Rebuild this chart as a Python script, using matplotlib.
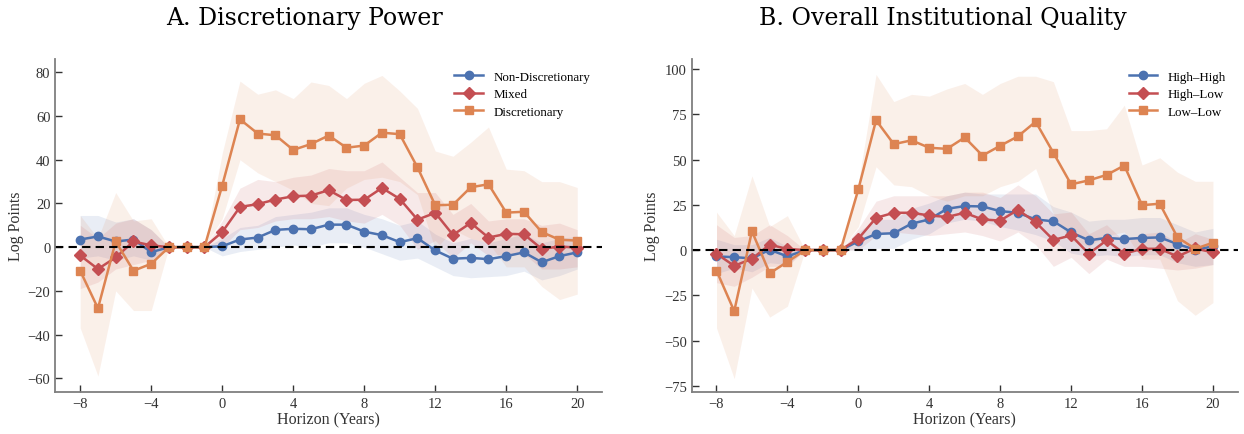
import numpy as np
import matplotlib
matplotlib.use("Agg")
import matplotlib.pyplot as plt

plt.rcParams["font.family"] = ["Liberation Serif", "DejaVu Serif"]

horizon = list(range(-8, 21))

# Panel A: discretionary power
nd = [3.5, 4.9, 2.6, 3.5, -2.3, 0, 0, 0, 0.4, 3.5, 4.4, 7.9, 8.4, 8.2, 10.3, 10.3, 7.1, 5.5, 2.3, 4.1, -1.5, -5.3, -4.9, -5.5, -4.1, -2.4, -6.9, -4.1, -2.4]
nd_lo = [-5, -4, -6, -4, -6, 0, 0, 0, -4, -2, -1, 0, 1, 0, 2, 2, 0, -3, -6, -5, -9, -13, -14, -13.5, -13, -11, -15, -13, -10]
nd_hi = [14.5, 14.5, 11.5, 13, 8, 0, 0, 0, 4, 9, 10, 14, 15, 16, 18, 18, 15, 13, 10, 12, 6, 2, 4, 2, 4, 6, 2, 4, 5]
mixed = [-3.8, -10.0, -4.7, 2.6, 0.8, 0, 0, 0, 6.9, 18.4, 19.7, 21.8, 23.3, 23.6, 26.1, 21.6, 21.7, 27.1, 22.1, 12.6, 15.7, 5.6, 11.1, 4.4, 6.1, 5.9, -0.8, 0.3, -0.2]
mixed_lo = [-19, -16, -10, -8, -6, 0, 0, 0, 0, 8, 9, 12, 13, 13, 14, 12, 11, 15, 10, -1, 3, -5, 2, -4, -3, -3, -10, -10, -9]
mixed_hi = [10, 4, 11, 13, 8, 0, 0, 0, 12, 27, 31, 30, 32, 33, 36, 35, 35, 39, 32, 25, 25, 15, 20, 12, 13, 13, 10, 11, 8]
disc = [-10.8, -28.0, 2.6, -10.8, -7.6, 0, 0, 0, 28.2, 58.5, 52.0, 51.2, 44.5, 47.2, 51.1, 45.5, 46.5, 52.4, 51.7, 36.5, 19.2, 19.4, 27.4, 28.8, 15.8, 16.2, 6.9, 3.4, 3.0]
disc_lo = [-37, -59, -20, -29, -29, 0, 0, 0, 13, 40, 34, 30, 26, 20, 19, 27, 31, 32, 30, 24, -1, 8, 4, 2, -9, -9, -18, -24, -21.5]
disc_hi = [14.5, 4, 25, 12, 13, 0, 0, 0, 43, 76, 70, 72, 68, 75.6, 74, 68, 75, 78.6, 71.5, 63.5, 44, 41.6, 48, 55, 35.7, 35, 30, 30, 27.3]

# Panel B: overall institutional quality
hh = [-3.5, -3.9, -4.6, 0.2, -3.5, 0, 0, 0, 4.8, 8.9, 9.3, 14.6, 16.9, 22.8, 24.3, 24.1, 21.5, 20.6, 16.9, 15.9, 9.8, 5.4, 6.7, 6.1, 6.7, 7.0, 3.3, 0.2, 2.0]
hh_lo = [-13, -10, -12, -7, -8, 0, 0, 0, 0, 1, 1, 6, 9, 15, 17, 16, 13, 11, 8.5, 5, -1.7, -3.5, -2.6, -3.5, -2.6, -2.6, -7, -9, -8]
hh_hi = [6, 3, 3, 7, 2, 0, 0, 0, 10, 17, 17, 23, 26, 30, 32, 31, 31, 31, 31, 24, 21, 16, 17, 17, 18, 18, 14, 10, 12]
hl = [-2.0, -8.7, -4.8, 3.0, 0.6, 0, 0, 0, 6.3, 17.8, 20.6, 20.6, 19.1, 18.3, 20.6, 16.9, 16.3, 22.2, 15.4, 5.6, 8.1, -2.0, 5.4, -2.0, 0.7, 0.7, -3.5, 0.9, -1.3]
hl_lo = [-18, -20, -15, -9, -9, 0, 0, 0, 0, 8, 10, 9, 8, 9, 10, 8, 5, 10, 3, -9, -4, -13, -5, -9, -9, -10, -11, -10, -8]
hl_hi = [14, 7, 8, 14, 8, 0, 0, 0, 12, 27, 30, 30, 30, 30, 32, 32, 29, 36, 30, 20, 21, 9, 14, 5, 9, 10, 4, 9, 6]
ll = [-11.3, -33.7, 10.4, -12.8, -6.5, 0, 0, 0, 33.5, 71.7, 58.5, 60.6, 56.5, 55.9, 62.2, 52.2, 57.6, 62.8, 70.9, 53.7, 36.3, 38.5, 41.5, 46.7, 24.8, 25.6, 7.0, 0.7, 4.1]
ll_lo = [-43, -71, -21, -37, -31, 0, 0, 0, 13, 46, 36, 35, 30, 27, 30, 30, 35, 38, 45, 20, 5, 2, 8, 10, -5, -5, -28, -36, -29]
ll_hi = [21, 8, 41, 13, 19, 0, 0, 0, 37, 97, 82, 86, 85, 89, 92, 86, 92, 96, 96, 93, 66, 66, 67, 80, 47, 51, 43, 38, 38]

colors = ["#4C72B0", "#C44E52", "#DD8452"]
markers = ["o", "D", "s"]


def panel(ax, series, labels, ylim, yticks):
    for (y, lo, hi), lab, c, m in zip(series, labels, colors, markers):
        ax.fill_between(horizon, lo, hi, color=c, alpha=0.12, lw=0)
        ax.plot(horizon, y, color=c, marker=m, ms=6, lw=1.8, label=lab)
    ax.axhline(0, color="black", ls="--", lw=1.5, dashes=(4, 2.5))
    ax.set_xlim(-9.4, 21.4)
    ax.set_ylim(*ylim)
    ax.set_xticks([-8, -4, 0, 4, 8, 12, 16, 20])
    ax.set_xticklabels(["\u22128", "\u22124", "0", "4", "8", "12", "16", "20"])
    ax.set_yticks(yticks)
    ax.set_yticklabels([str(t).replace("-", "\u2212") for t in yticks])
    for s in ["top", "right"]:
        ax.spines[s].set_visible(False)
    for s in ["left", "bottom"]:
        ax.spines[s].set_color("#7f7f7f")
        ax.spines[s].set_linewidth(1.3)
    ax.tick_params(direction="in", length=5, width=1, color="#333333",
                   labelsize=10.5, labelcolor="#333333")
    ax.set_xlabel("Horizon (Years)", fontsize=11.5, color="#333333", labelpad=1)
    ax.set_ylabel("Log Points", fontsize=11.5, color="#333333", labelpad=3)
    ax.legend(loc="upper right", frameon=False, fontsize=9.4, handlelength=2.2,
              labelspacing=0.4, bbox_to_anchor=(1.0, 1.0))


fig = plt.figure(figsize=(12.44, 4.35), dpi=100)
ax1 = fig.add_axes([0.0445, 0.096, 0.4395, 0.766])
ax2 = fig.add_axes([0.556, 0.096, 0.439, 0.766])

panel(ax1,
      [(nd, nd_lo, nd_hi), (mixed, mixed_lo, mixed_hi), (disc, disc_lo, disc_hi)],
      ["Non-Discretionary", "Mixed", "Discretionary"],
      (-66.4, 86.1), [-60, -40, -20, 0, 20, 40, 60, 80])
panel(ax2,
      [(hh, hh_lo, hh_hi), (hl, hl_lo, hl_hi), (ll, ll_lo, ll_hi)],
      ["High\u2013High", "High\u2013Low", "Low\u2013Low"],
      (-78.5, 105.5), [-75, -50, -25, 0, 25, 50, 75, 100])

fig.text(305 / 1244, 1 - 25 / 435, "A. Discretionary Power", ha="center",
         va="baseline", fontsize=17, family="DejaVu Serif")
fig.text(943 / 1244, 1 - 25 / 435, "B. Overall Institutional Quality", ha="center",
         va="baseline", fontsize=17, family="DejaVu Serif")

fig.savefig("out.png", dpi=100)
